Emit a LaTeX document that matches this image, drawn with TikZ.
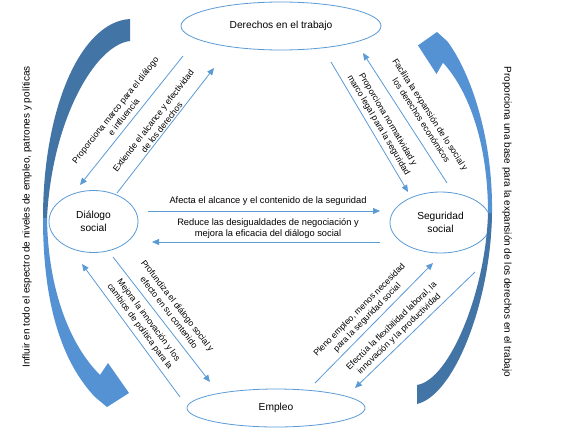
\documentclass[tikz,border=0pt]{standalone}
\usepackage{fontspec}
\setmainfont{Liberation Sans}
\usetikzlibrary{arrows.meta,shapes.geometric}
\definecolor{lineblue}{RGB}{91,155,213}
\definecolor{darkband}{RGB}{67,116,166}
\definecolor{lightband}{RGB}{84,146,212}
\begin{document}
\begin{tikzpicture}[x=1pt,y=-1pt,
  oval/.style={draw=lineblue, line width=0.8pt, ellipse, inner sep=0pt, align=center,
    font=\fontsize{10.2}{12.5}\selectfont},
  conn/.style={draw=lineblue, line width=0.8pt, -{Triangle[length=7pt,width=6pt]}},
  lbl/.style={align=center, inner sep=0pt, font=\fontsize{8.7}{10.8}\selectfont},
  hlbl/.style={align=center, inner sep=0pt, font=\fontsize{9.3}{11}\selectfont},
  side/.style={inner sep=0pt, font=\fontsize{10}{12}\selectfont}]
\fill[white] (0,0) rectangle (569,431);
\useasboundingbox (0,0) rectangle (569,431);

% ellipses
\node[oval, minimum width=200pt, minimum height=48pt] (der) at (281,26) {Derechos en el trabajo};
\node[oval, minimum width=89pt, minimum height=62pt] (dia) at (93.5,221.5) {Diálogo\\social};
\node[oval, minimum width=101pt, minimum height=61pt] (seg) at (440.5,222.5) {Seguridad\\social};
\node[oval, minimum width=178pt, minimum height=38pt] (emp) at (276,408) {Empleo};

% big curved arrows
\fill[darkband] (130,19) -- (130,41) .. controls (95,45) and (52,120) .. (47,218)
  -- (43,218) .. controls (43,110) and (80,22) .. (130,19) -- cycle;
\fill[lightband] (43,218) .. controls (43,300) and (60,360) .. (95,397)
  -- (107,407) -- (129,393) -- (108,363) -- (100,375)
  .. controls (70,345) and (48,290) .. (47,218) -- cycle;
\fill[darkband] (417,404) -- (417,385) .. controls (450,380) and (486,290) .. (488,213)
  -- (492,213) .. controls (491,300) and (455,395) .. (417,404) -- cycle;
\fill[lightband] (492,213) .. controls (493,140) and (472,75) .. (447.6,41.6)
  -- (437,32) -- (418,45.4) -- (436.5,74) -- (443,62.7)
  .. controls (469,91) and (488,144) .. (488,213) -- cycle;

% side texts
\node[side, rotate=90] (lefttxt) at (27,217) {Influir en todo el espectro de niveles de empleo, patrones y políticas};
\node[side, rotate=-90] (righttxt) at (507,222) {Proporciona una base para la expansión de los derechos en el trabajo};

% connector ends
\coordinate (a1s) at (183,56);  \coordinate (a1e) at (80,185);
\coordinate (a2s) at (117,193); \coordinate (a2e) at (214,68);
\coordinate (a3s) at (331,62);  \coordinate (a3e) at (408,192);
\coordinate (a4s) at (447,183); \coordinate (a4e) at (363,53);
\coordinate (a5s) at (148,211); \coordinate (a5e) at (380,211);
\coordinate (a6s) at (380,242); \coordinate (a6e) at (152,242);
\coordinate (a7s) at (113,257); \coordinate (a7e) at (210,382);
\coordinate (a8s) at (180,397); \coordinate (a8e) at (82,264);
\coordinate (a9s) at (315,383); \coordinate (a9e) at (433,263);
\coordinate (a10s) at (475,272); \coordinate (a10e) at (355,388);

\draw[conn] (a1s) -- (a1e);
\draw[conn] (a2s) -- (a2e);
\draw[conn] (a3s) -- (a3e);
\draw[conn] (a4s) -- (a4e);
\draw[conn] (a5s) -- (a5e);
\draw[conn] (a6s) -- (a6e);
\draw[conn] (a7s) -- (a7e);
\draw[conn] (a8s) -- (a8e);
\draw[conn] (a9s) -- (a9e);
\draw[conn] (a10s) -- (a10e);

% labels
\node[lbl, rotate=51.4] (l1) at (119.5,113.5) {Proporciona marco para el diálogo\\e influencia};
\node[lbl, rotate=52.2] (l2) at (157.5,124) {Extiende el alcance y efectividad\\de los derechos};
\node[lbl, rotate=-59.4] (l3) at (383,122.5) {Proporciona normatividad y\\marco legal para la seguridad};
\node[lbl, rotate=-57.1] (l4) at (426,117.5) {Facilita la expansión de lo social y\\los derechos económicos};
\node[hlbl] (l5) at (268,201) {Afecta el alcance y el contenido de la seguridad};
\node[hlbl] (l6) at (268,228.5) {Reduce las desigualdades de negociación y\\mejora la eficacia del diálogo social};
\node[lbl, rotate=-52.2] (l7) at (173.5,309) {Profundiza el diálogo social y\\efecto en su contenido};
\node[lbl, rotate=-53.6] (l8) at (144,323.5) {Mejora la innovación y los\\cambios de política para la};
\node[lbl, rotate=45.5] (l9) at (363.5,314) {Pleno empleo, menos necesidad\\para la seguridad social};
\node[lbl, rotate=44] (l10) at (395.5,330) {Efectúa la flexibilidad laboral, la\\innovación y la productividad};
\end{tikzpicture}
\end{document}
